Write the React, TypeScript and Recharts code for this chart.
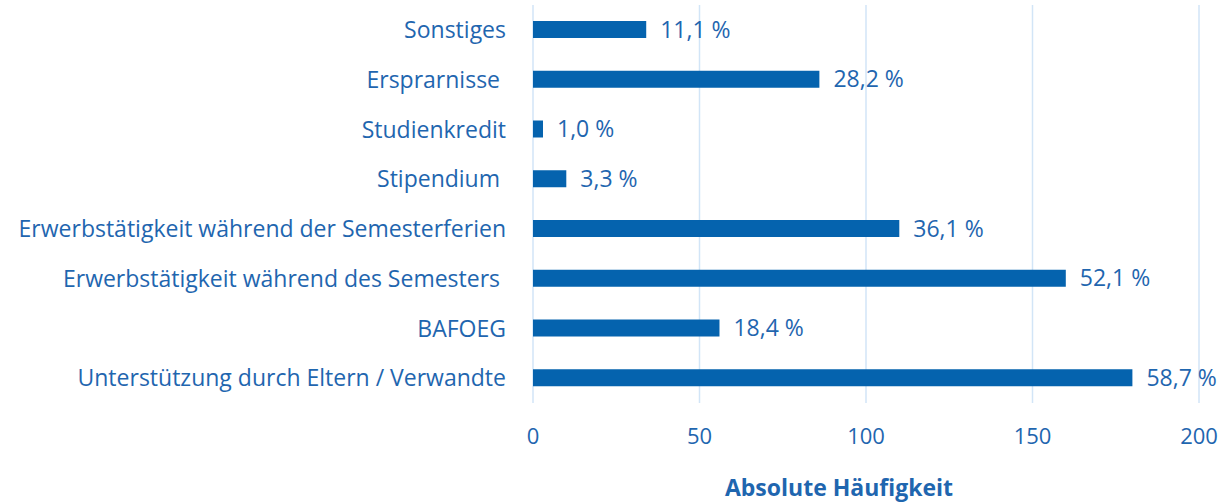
import { BarChart, Bar, XAxis, YAxis, CartesianGrid, LabelList } from "recharts";

const categories = [
  "Sonstiges",
  "Ersprarnisse\u00A0",
  "Studienkredit",
  "Stipendium\u00A0",
  "Erwerbstätigkeit während der Semesterferien",
  "Erwerbstätigkeit während des Semesters\u00A0",
  "BAFOEG",
  "Unterstützung durch Eltern / Verwandte",
];
const counts = [34, 86, 3, 10, 110, 160, 56, 180];
const percentLabels = ["11,1 %", "28,2 %", "1,0 %", "3,3 %", "36,1 %", "52,1 %", "18,4 %", "58,7 %"];
const xTicks = [0, 50, 100, 150, 200];

const data = categories.map((name, i) => ({
  name,
  count: counts[i],
  pct: percentLabels[i],
}));

const FONT = "'Open Sans', sans-serif";
const TEXT = "#1F66AF";
const BAR = "#0563AE";

export default function App() {
  return (
    <div style={{ position: "absolute", left: 0, top: 0 }}>
      <BarChart
        width={1226}
        height={502}
        data={data}
        layout="vertical"
        margin={{ top: 5, right: 27, bottom: 30, left: 0 }}
        style={{ fontFamily: FONT }}
      >
        <CartesianGrid horizontal={false} stroke="#D2E5F7" strokeWidth={1.5} />
        <XAxis
          type="number"
          domain={[0, 200]}
          ticks={xTicks}
          axisLine={false}
          tickLine={false}
          tickSize={0}
          tickMargin={25}
          height={69}
          tick={{ fill: TEXT, fontSize: 22, fontFamily: FONT }}
          label={({ viewBox }: any) => (
            <text
              x={viewBox.x + viewBox.width / 2 - 27}
              y={viewBox.y + 93}
              textAnchor="middle"
              fill={TEXT}
              fontSize={23}
              fontWeight="bold"
              fontFamily={FONT}
            >
              Absolute Häufigkeit
            </text>
          )}
        />
        <YAxis
          type="category"
          dataKey="name"
          width={533}
          axisLine={false}
          tickLine={false}
          tickSize={0}
          tickMargin={27}
          interval={0}
          tick={{ fill: TEXT, fontSize: 23, fontFamily: FONT }}
        />
        <Bar dataKey="count" fill={BAR} barSize={17} isAnimationActive={false}>
          <LabelList
            dataKey="pct"
            position="right"
            offset={14}
            fill={TEXT}
            fontSize={23}
            fontFamily={FONT}
          />
        </Bar>
      </BarChart>
    </div>
  );
}
